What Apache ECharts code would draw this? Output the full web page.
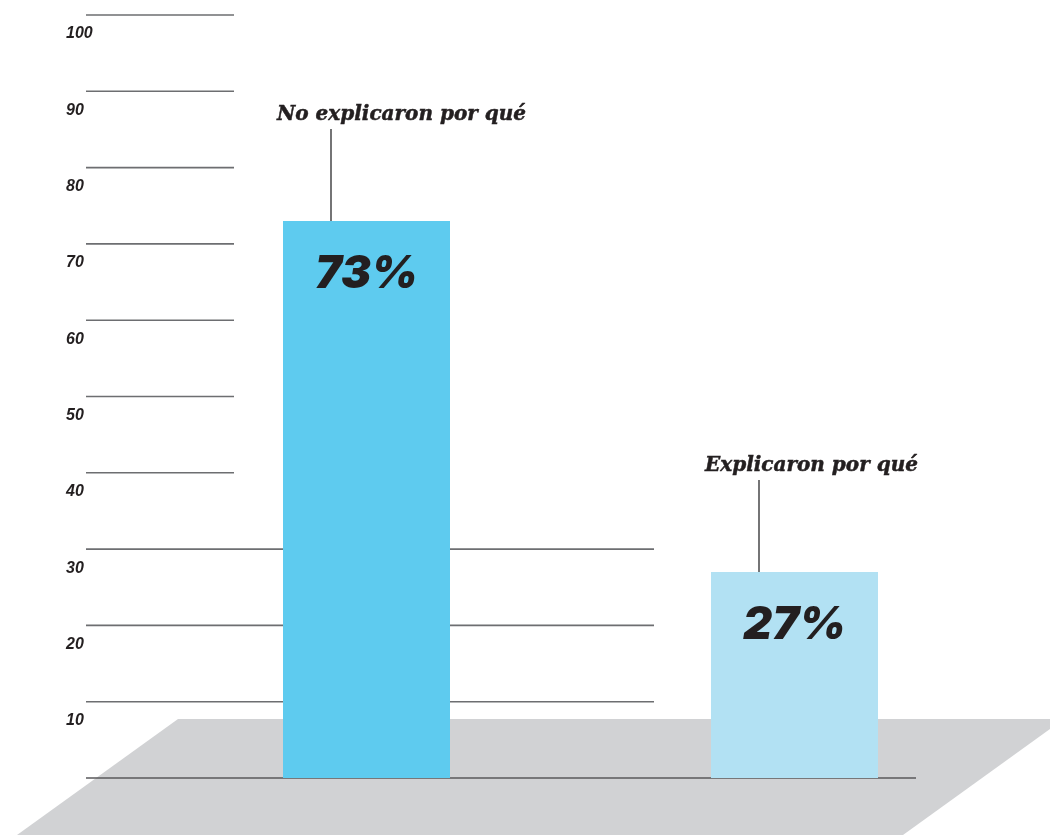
<!DOCTYPE html>
<html>
<head>
<meta charset="utf-8">
<script src="https://cdn.jsdelivr.net/npm/echarts@6/dist/echarts.min.js"></script>
<style>
  html, body { margin: 0; padding: 0; background: #ffffff; }
  #chart { width: 1050px; height: 835px; }
</style>
</head>
<body>
<div id="chart"></div>
<script>
// Survey answers: did they explain why?
const categories = ['No explicaron por qué', 'Explicaron por qué'];
const shares = [73, 27];
const barColors = ['#5ecbef', '#b2e1f3'];
// Horizontal reference lines (percent)
const gridValues = [0, 10, 20, 30, 40, 50, 60, 70, 80, 90, 100];

const INK = '#231f20';
const RULE = '#6d6e71';
const BAR_W = 167;

const chart = echarts.init(document.getElementById('chart'), null, { renderer: 'canvas' });

chart.setOption({
  animation: false,
  backgroundColor: '#ffffff',
  grid: { left: 152.5, right: 41.5, top: 15, bottom: 57, containLabel: false },
  graphic: [{
    // grey floor under the bars
    type: 'polygon',
    z: 0,
    silent: true,
    shape: { points: [[178, 719], [1064, 719], [903, 835], [17, 835]] },
    style: { fill: '#d1d2d4' }
  }],
  xAxis: {
    type: 'category',
    data: categories,
    axisLine: { show: false },
    axisTick: { show: false },
    axisLabel: { show: false },
    splitLine: { show: false }
  },
  yAxis: {
    type: 'value',
    min: 0,
    max: 100,
    interval: 10,
    axisLine: { show: false },
    axisTick: { show: false },
    splitLine: { show: false },
    axisLabel: {
      align: 'left',
      verticalAlign: 'top',
      margin: 86.5,
      padding: [11, 0, 0, 0],
      color: INK,
      fontFamily: 'Liberation Sans, Arial, sans-serif',
      fontStyle: 'italic',
      fontWeight: 'bold',
      fontSize: 16,
      formatter: v => (v === 0 ? '' : String(v))
    }
  },
  series: [
    {
      // reference rules: short at the top, longer near the floor
      type: 'custom',
      z: 2,
      silent: true,
      data: gridValues.map(v => [0, v]),
      encode: { x: 0, y: 1 },
      renderItem: (params, api) => {
        const v = api.value(1);
        const y = api.coord([0, v])[1];
        const x2 = v === 0 ? 916 : (v <= 30 ? 654 : 234);
        return {
          type: 'line',
          shape: { x1: 86, y1: y, x2: x2, y2: y },
          style: { stroke: v === 0 ? '#58595b' : RULE, lineWidth: 1.6 }
        };
      }
    },
    {
      type: 'bar',
      z: 3,
      barWidth: BAR_W,
      data: shares.map((v, i) => ({ value: v, itemStyle: { color: barColors[i] } })),
      label: {
        show: true,
        position: 'insideTop',
        distance: 31,
        formatter: p => p.value + '%',
        color: INK,
        fontFamily: 'Inter, "Open Sans", sans-serif',
        fontStyle: 'italic',
        fontWeight: 900,
        fontSize: 45
      }
    },
    {
      // category captions with leader lines down to each bar
      type: 'custom',
      z: 4,
      silent: true,
      data: shares.map((v, i) => [i, v]),
      encode: { x: 0, y: 1 },
      renderItem: (params, api) => {
        const i = api.value(0);
        const top = api.coord([i, api.value(1)]);
        const left = top[0] - BAR_W / 2;
        const lineX = left + 48;
        const lineTop = top[1] - 92;
        return {
          type: 'group',
          children: [
            {
              type: 'line',
              shape: { x1: lineX, y1: top[1], x2: lineX, y2: lineTop },
              style: { stroke: '#3a3a3c', lineWidth: 1.4 }
            },
            {
              type: 'text',
              style: {
                text: categories[i],
                x: left - 6,
                y: lineTop - 4,
                align: 'left',
                verticalAlign: 'bottom',
                fill: INK,
                stroke: INK,
                lineWidth: 0.5,
                font: 'italic bold 20px "DejaVu Serif", serif'
              }
            }
          ]
        };
      }
    }
  ]
});
</script>
</body>
</html>
